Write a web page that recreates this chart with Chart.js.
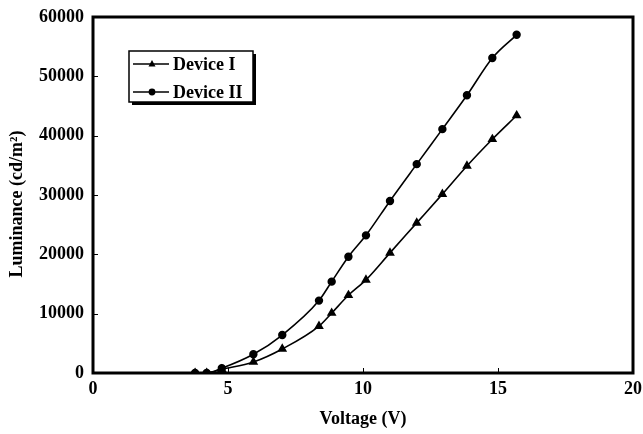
<!DOCTYPE html>
<html>
<head>
<meta charset="utf-8">
<script src="https://cdn.jsdelivr.net/npm/chart.js@4.4.1/dist/chart.umd.min.js"></script>
<style>
  html, body { margin: 0; padding: 0; background: #fff; }
  #wrap { width: 643px; height: 434px; }
</style>
</head>
<body>
<div id="wrap"><canvas id="lumChart" width="643" height="434"></canvas></div>
<script>
// voltage (V)
const voltage = [3.78, 4.21, 4.77, 5.94, 7.01, 8.37, 8.84, 9.46, 10.11, 11.0, 11.99, 12.94, 13.85, 14.79, 15.69];
// luminance (cd/m2)
const deviceI = [0, 0, 620, 1850, 4050, 7900, 10100, 13100, 15700, 20250, 25300, 30150, 34900, 39400, 43400];
const deviceII = [0, 0, 800, 3150, 6400, 12200, 15400, 19600, 23200, 29000, 35200, 41100, 46800, 53100, 57000];
const xTicks = [0, 5, 10, 15, 20];
const yTicks = [0, 10000, 20000, 30000, 40000, 50000, 60000];

const FONT = "'Liberation Serif', 'Times New Roman', serif";

function toPoints(ys) {
  return voltage.map((v, i) => ({ x: v, y: ys[i] }));
}

// frame, inward tick marks and the boxed legend
const framePlugin = {
  id: "frame",
  afterDraw(chart) {
    const ctx = chart.ctx;
    const a = chart.chartArea;
    const xs = chart.scales.x;
    const ys = chart.scales.y;
    ctx.save();
    ctx.strokeStyle = "#000";
    ctx.lineWidth = 3;
    ctx.strokeRect(a.left, a.top, a.right - a.left, a.bottom - a.top);

    ctx.lineWidth = 1;
    ctx.beginPath();
    xTicks.forEach((t) => {
      const px = Math.round(xs.getPixelForValue(t)) + 0.5;
      ctx.moveTo(px, a.bottom);
      ctx.lineTo(px, a.bottom - 5);
    });
    yTicks.forEach((t) => {
      const py = Math.round(ys.getPixelForValue(t)) + 0.5;
      ctx.moveTo(a.left, py);
      ctx.lineTo(a.left + 5, py);
    });
    ctx.stroke();

    // legend
    const bx = 129, by = 51, bw = 124, bh = 51;
    ctx.fillStyle = "#000";
    ctx.fillRect(bx + 3, by + 3, bw, bh);
    ctx.fillStyle = "#fff";
    ctx.fillRect(bx, by, bw, bh);
    ctx.lineWidth = 1.5;
    ctx.strokeRect(bx, by, bw, bh);

    chart.data.datasets.forEach((ds, i) => {
      const y = by + 13 + i * 28;
      ctx.strokeStyle = "#000";
      ctx.lineWidth = 1.5;
      ctx.beginPath();
      ctx.moveTo(bx + 4, y);
      ctx.lineTo(bx + 40, y);
      ctx.stroke();
      const mx = bx + 23;
      ctx.fillStyle = "#000";
      ctx.beginPath();
      if (ds.pointStyle === "triangle") {
        ctx.moveTo(mx, y - 4);
        ctx.lineTo(mx + 3.5, y + 2.5);
        ctx.lineTo(mx - 3.5, y + 2.5);
        ctx.closePath();
      } else {
        ctx.arc(mx, y, 3.4, 0, Math.PI * 2);
      }
      ctx.fill();
      ctx.font = "bold 18px " + FONT;
      ctx.textBaseline = "middle";
      ctx.textAlign = "left";
      ctx.fillText(ds.label, bx + 44, y + 1);
    });

    // y title drawn by hand, centred a little below the plot middle
    ctx.save();
    ctx.translate(17, (a.top + a.bottom) / 2 + 9);
    ctx.rotate(-Math.PI / 2);
    ctx.font = "bold 18px " + FONT;
    ctx.textAlign = "center";
    ctx.textBaseline = "middle";
    ctx.fillStyle = "#000";
    ctx.fillText("Luminance (cd/m\u00B2)", 0, 0);
    ctx.restore();

    ctx.restore();
  },
};

const ctx = document.getElementById("lumChart").getContext("2d");
new Chart(ctx, {
  type: "line",
  data: {
    datasets: [
      {
        label: "Device I",
        data: toPoints(deviceI),
        borderColor: "#000",
        backgroundColor: "#000",
        borderWidth: 1.6,
        pointStyle: "triangle",
        pointRadius: 4,
        cubicInterpolationMode: "monotone",
      },
      {
        label: "Device II",
        data: toPoints(deviceII),
        borderColor: "#000",
        backgroundColor: "#000",
        borderWidth: 1.6,
        pointStyle: "circle",
        pointRadius: 3.4,
        cubicInterpolationMode: "monotone",
      },
    ],
  },
  options: {
    responsive: false,
    animation: false,
    layout: { padding: { top: 17, right: 10, left: 0, bottom: 0 } },
    plugins: {
      legend: { display: false },
      tooltip: { enabled: false },
    },
    scales: {
      x: {
        type: "linear",
        min: 0,
        max: 20,
        afterBuildTicks: (s) => { s.ticks = xTicks.map((v) => ({ value: v })); },
        afterFit: (s) => { s.height = 61; s.paddingRight = 0; s.paddingLeft = 0; },
        grid: { display: false, drawTicks: false },
        border: { display: false },
        ticks: {
          color: "#000",
          padding: 6,
          font: { family: FONT, size: 18, weight: "bold" },
          callback: (v) => String(v),
        },
        title: {
          display: true,
          text: "Voltage (V)",
          color: "#000",
          padding: { top: 8 },
          font: { family: FONT, size: 18, weight: "bold" },
        },
      },
      y: {
        type: "linear",
        min: 0,
        max: 60000,
        afterBuildTicks: (s) => { s.ticks = yTicks.map((v) => ({ value: v })); },
        afterFit: (s) => { s.width = 93; s.paddingTop = 0; s.paddingBottom = 0; },
        grid: { display: false, drawTicks: false },
        border: { display: false },
        ticks: {
          color: "#000",
          padding: 9,
          font: { family: FONT, size: 18, weight: "bold" },
          callback: (v) => String(v),
        },
        title: { display: false },
      },
    },
  },
  plugins: [framePlugin],
});
</script>
</body>
</html>
